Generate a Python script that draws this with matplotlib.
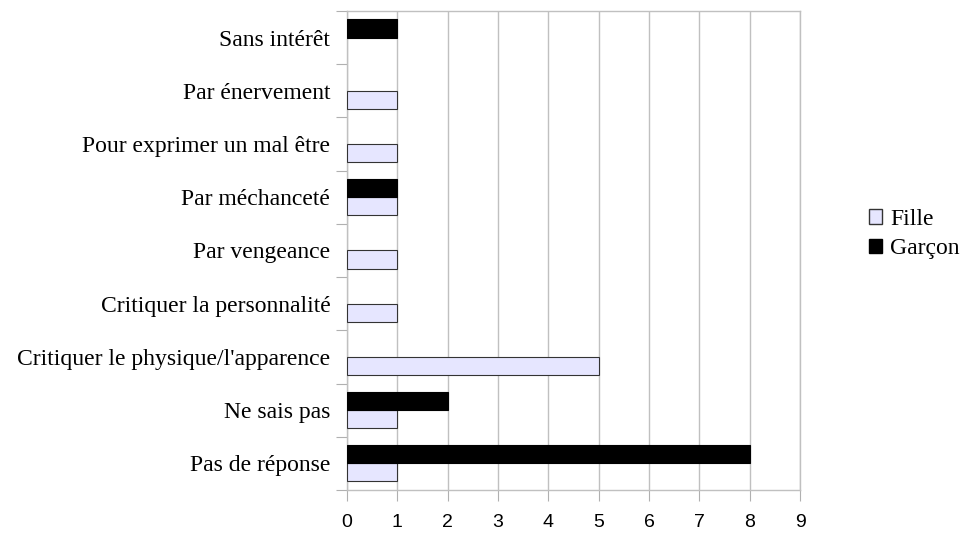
import numpy as np
import matplotlib.pyplot as plt
from matplotlib.patches import Patch

categories = ["Pas de réponse", "Ne sais pas", "Critiquer le physique/l'apparence",
              "Critiquer la personnalité", "Par vengeance", "Par méchanceté",
              "Pour exprimer un mal être", "Par énervement", "Sans intérêt"]
fille  = [1, 1, 5, 1, 1, 1, 1, 1, 0]
garcon = [8, 2, 0, 0, 0, 1, 0, 0, 1]
x_ticks = list(range(10))

fig = plt.figure(figsize=(9.6, 5.38), dpi=100)
ax = fig.add_axes([0.3615, 0.0892, 0.4719, 0.8904])

y = np.arange(len(categories))
h = 0.34
fille = np.array(fille)
garcon = np.array(garcon)
# skip empty bars so no edge line is drawn at zero
kf = fille > 0
kg = garcon > 0
ax.barh(y[kf] - h / 2, fille[kf], height=h, color='#e6e6ff', edgecolor='#333333', linewidth=0.8, zorder=3)
ax.barh(y[kg] + h / 2, garcon[kg], height=h, color='black', edgecolor='black', linewidth=0.8, zorder=3)

ax.set_xlim(0, 9)
ax.set_ylim(-0.5, len(categories) - 0.5)
ax.set_xticks(x_ticks)
ax.set_xticklabels([str(v) for v in x_ticks], family='Liberation Sans', fontsize=14)
ax.xaxis.grid(True, color='#c0c0c0', linewidth=1, zorder=0)

# category ticks on boundaries, labels centred
ax.set_yticks(np.arange(-0.5, len(categories), 1))
ax.set_yticklabels([])
ax.set_yticks(y, minor=True)
ax.set_yticklabels(categories, minor=True, family='Liberation Serif', fontsize=17)
ax.tick_params(axis='y', which='minor', length=0, pad=12)
ax.tick_params(axis='y', which='major', length=8, color='#b0b0b0')
ax.tick_params(axis='x', length=8, color='#b0b0b0', pad=9)

for s in ax.spines.values():
    s.set_color('#c0c0c0')
    s.set_linewidth(1)

handles = [Patch(facecolor='#e6e6ff', edgecolor='#333333', label='Fille'),
           Patch(facecolor='black', edgecolor='black', label='Garçon')]
fig.legend(handles=handles, loc='center left', bbox_to_anchor=(0.883, 0.565),
           frameon=False, prop={'family': 'Liberation Serif', 'size': 17},
           handlelength=0.55, handleheight=0.55, handletextpad=0.34, labelspacing=0.35)

fig.savefig('out.png', dpi=100)
